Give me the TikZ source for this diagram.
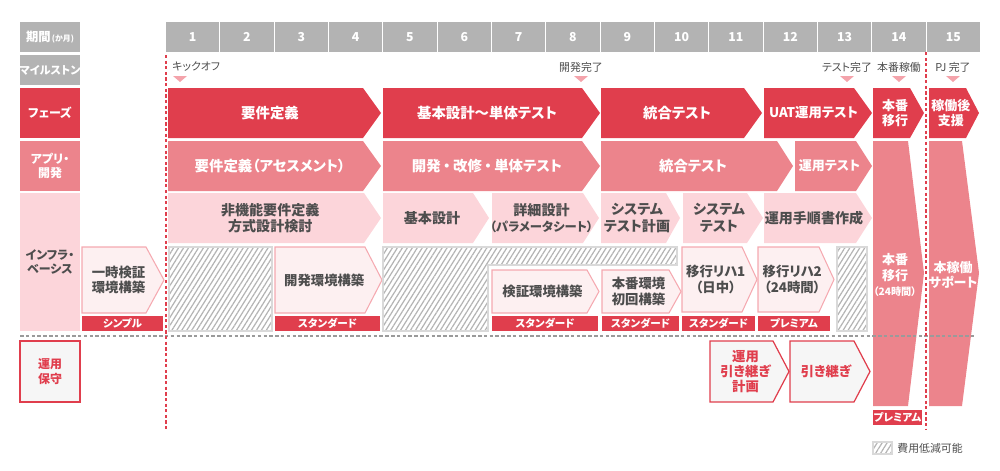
\documentclass[tikz,border=0pt]{standalone}
\usepackage{fontspec}
\setmainfont{Noto Sans CJK JP}[RawFeature=+palt]
\usetikzlibrary{patterns.meta}

\definecolor{hdrgray}{HTML}{B3B3B3}
\definecolor{phasered}{HTML}{E03E4D}
\definecolor{apppink}{HTML}{EC848C}
\definecolor{palepink}{HTML}{FCD5DA}
\definecolor{infrafill}{HTML}{FDF0F1}
\definecolor{infraline}{HTML}{F5A9B0}
\definecolor{textgray}{HTML}{4D4D4D}
\definecolor{opsfill}{HTML}{F6F6F6}
\definecolor{hatchline}{HTML}{B4B4B4}
\definecolor{hatchframe}{HTML}{D9D9D9}
\definecolor{marker}{HTML}{F4A3AB}
\definecolor{dashgray}{HTML}{9A9A9A}

\tikzset{
  hdr/.style={fill=hdrgray},
  phase/.style={fill=phasered},
  app/.style={fill=apppink},
  design/.style={fill=palepink},
  infra/.style={fill=infrafill, draw=infraline, line width=0.6pt},
  ops/.style={fill=opsfill, draw=phasered, line width=0.7pt},
  grade/.style={fill=phasered},
  hatch/.style={draw=hatchframe, line width=0.6pt,
    pattern={Lines[angle=58,distance=2.4pt,line width=0.7pt]}, pattern color=hatchline},
  txt/.style={inner sep=0pt, align=center},
  hdrtxt/.style={txt, text=white, font=\bfseries\fontsize{7}{8}\selectfont},
  rowtxt/.style={txt, text=white, font=\bfseries\fontsize{6.8}{8.2}\selectfont},
  phasetxt/.style={txt, text=white, font=\bfseries\fontsize{8.2}{9.5}\selectfont},
  smalltxt/.style={txt, text=white, font=\bfseries\fontsize{7.4}{8.6}\selectfont},
  designtxt/.style={txt, text=textgray, font=\bfseries\fontsize{8}{9.3}\selectfont},
  infratxt/.style={txt, text=textgray, font=\bfseries\fontsize{7.6}{8.8}\selectfont},
  opstxt/.style={txt, text=phasered, font=\bfseries\fontsize{7.6}{8.6}\selectfont},
  gradetxt/.style={txt, text=white, font=\bfseries\fontsize{6}{7}\selectfont},
  mstxt/.style={txt, text=textgray, font=\fontsize{6.2}{7}\selectfont},
  reddash/.style={draw=phasered, line width=0.9pt, dash pattern=on 1.8pt off 1.4pt},
  graydash/.style={draw=dashgray, line width=0.75pt, dash pattern=on 2pt off 1.3pt}
}

% chevron: [tip depth]{shape}{text style}{name}{x0}{y0}{x1}{y1}{text}
\newcommand\chev[9][17]{%
  \path[#2] (#5,#6) -- ({#7-#1},#6) -- (#7,{(#6+#8)/2}) -- ({#7-#1},#8) -- (#5,#8) -- cycle;
  \node[#3] (#4) at ({(#5+#7)/2-#1/4},{(#6+#8)/2}) {#9};
}
% box: {shape}{text style}{name}{x0}{y0}{x1}{y1}{text}
\newcommand\cell[8]{%
  \path[#1] (#4,#5) rectangle (#6,#7);
  \node[#2] (#3) at ({(#4+#6)/2},{(#5+#7)/2}) {#8};
}
\newcommand\dotsep{\hspace{0.18em}・\hspace{0.18em}}

\begin{document}
\begin{tikzpicture}[x=0.02cm, y=-0.02cm]
  \useasboundingbox (0,0) rectangle (1000,470);

  % row heads
  \cell{hdr}{hdrtxt}{hPeriod}{20}{22}{80}{52}{期間{\fontsize{4.5}{5}\selectfont\,(か月)}}
  \cell{hdr}{rowtxt}{hMile}{20}{55}{80}{85}{{\fontsize{6.3}{7}\selectfont マイルストン}}
  \cell{phase}{rowtxt}{hPhase}{20}{88}{80}{138}{フェーズ}
  \cell{app}{rowtxt}{hApp}{20}{141}{80}{191}{アプリ・\\開発}
  \cell{design}{rowtxt, text=textgray}{hInfra}{20}{193}{80}{331}{インフラ・\\ベーシス}
  \cell{ops}{rowtxt, text=phasered}{hOps}{20}{341}{80}{402}{運用\\保守}

  % months
  \foreach \m in {1,...,15}{
    \pgfmathsetmacro\xa{166+(\m-1)*54.33}
    \pgfmathsetmacro\xb{\xa+53.3}
    \cell{hdr}{hdrtxt}{m\m}{\xa}{22}{\xb}{52}{\m}
  }

  % milestones
  \node[mstxt, anchor=west] (msKick) at (172,67) {キックオフ};
  \fill[marker] (173,76) -- (187,76) -- (180,82) -- cycle;
  \node[mstxt] (msDev) at (581,67) {開発完了};
  \fill[marker] (574,76) -- (588,76) -- (581,82) -- cycle;
  \node[mstxt] (msTest) at (847,67) {テスト完了};
  \fill[marker] (840,76) -- (854,76) -- (847,82) -- cycle;
  \node[mstxt] (msLive) at (899,67) {本番稼働};
  \fill[marker] (892,76) -- (906,76) -- (899,82) -- cycle;
  \node[mstxt] (msEnd) at (953,67) {PJ 完了};
  \fill[marker] (946,76) -- (960,76) -- (953,82) -- cycle;

  % phases
  \chev[18]{phase}{phasetxt}{pReq}{168}{88}{381}{138}{要件定義}
  \chev[18]{phase}{phasetxt}{pDev}{383}{88}{600}{138}{基本設計〜単体テスト}
  \chev[18]{phase}{phasetxt}{pInt}{601}{88}{762}{138}{統合テスト}
  \chev[18]{phase}{phasetxt, font=\bfseries\fontsize{7.6}{9}\selectfont}{pUat}{764}{88}{872}{138}{UAT運用テスト}
  \chev[14]{phase}{smalltxt}{pMig}{873}{88}{924}{138}{本番\\移行}
  \chev[13]{phase}{smalltxt}{pSup}{929}{88}{979}{138}{稼働後\\支援}

  % application
  \chev[18]{app}{phasetxt}{aReq}{168}{141}{381}{191}{要件定義（アセスメント）}
  \chev[18]{app}{phasetxt}{aDev}{383}{141}{600}{191}{開発\dotsep 改修\dotsep 単体テスト}
  \chev[16]{app}{phasetxt}{aInt}{601}{141}{793}{191}{統合テスト}
  \chev[16]{app}{smalltxt}{aOpt}{795}{141}{872}{191}{運用テスト}
  \path[app] (873,141) -- (908,141) -- (924,273) -- (908,406) -- (873,406) -- cycle;
  \node[smalltxt] (aMig) at (895,275) {本番\\移行\\{\fontsize{5.8}{7}\selectfont（24時間）}};
  \path[app] (929,141) -- (962,141) -- (979,273) -- (962,406) -- (929,406) -- cycle;
  \node[smalltxt] (aSup) at (953,275) {本稼働\\サポート};

  % infrastructure design
  \chev[17]{design}{designtxt}{dReq}{168}{193}{381}{243}{非機能要件定義\\方式設計検討}
  \chev[16]{design}{designtxt}{dBasic}{383}{193}{489}{243}{基本設計}
  \chev[16]{design}{designtxt}{dDetail}{492}{193}{599}{243}{詳細設計\\{\fontsize{7}{8}\selectfont（パラメータシート）}}
  \chev[14]{design}{designtxt}{dPlan}{601}{193}{680}{243}{システム\\テスト計画}
  \chev[16]{design}{designtxt}{dTest}{683}{193}{763}{243}{システム\\テスト}
  \chev[16]{design}{designtxt}{dProc}{764}{193}{872}{243}{運用手順書作成}

  % infrastructure build
  \chev[18]{infra}{infratxt}{iTemp}{82}{247}{164}{313}{一時検証\\環境構築}
  \cell{grade}{gradetxt}{gTemp}{82}{316}{163}{331}{シンプル}
  \path[hatch] (169,247) rectangle (272,331);
  \chev[17]{infra}{infratxt}{iDev}{275}{247}{382}{313}{開発環境構築}
  \cell{grade}{gradetxt}{gDev}{275}{316}{380}{331}{スタンダード}
  \path[hatch] (383,247) -- (677,247) -- (677,265) -- (488,265) -- (488,331) -- (383,331) -- cycle;
  \chev[12]{infra}{infratxt}{iVer}{492}{270}{599}{313}{検証環境構築}
  \cell{grade}{gradetxt}{gVer}{492}{316}{598}{331}{スタンダード}
  \chev[12]{infra}{infratxt}{iProd}{602}{270}{681}{313}{本番環境\\初回構築}
  \cell{grade}{gradetxt}{gProd}{602}{316}{679}{331}{スタンダード}
  \chev[15]{infra}{infratxt}{iReh1}{682}{247}{757}{312}{移行リハ1\\（日中）}
  \cell{grade}{gradetxt}{gReh1}{682}{316}{755}{331}{スタンダード}
  \chev[15]{infra}{infratxt}{iReh2}{758}{247}{834}{312}{移行リハ2\\（24時間）}
  \cell{grade}{gradetxt}{gReh2}{758}{316}{830}{331}{プレミアム}
  \path[hatch] (837,247) rectangle (867,331);

  % operation
  \draw[graydash] (20,336) -- (975,336);
  \chev[16]{ops}{opstxt}{oPlan}{710}{341}{789}{402}{運用\\引き継ぎ\\計画}
  \chev[16]{ops}{opstxt}{oHand}{790}{341}{870}{402}{引き継ぎ}
  \cell{grade}{gradetxt}{gMig}{873}{410}{922}{425}{プレミアム}

  % start / end lines
  \draw[reddash] (166,55) -- (166,429);
  \draw[reddash] (926,52) -- (926,429);

  % legend
  \path[hatch] (873,442) rectangle (892,454);
  \node[mstxt, anchor=west] (legend) at (897,448) {費用低減可能};
\end{tikzpicture}
\end{document}
